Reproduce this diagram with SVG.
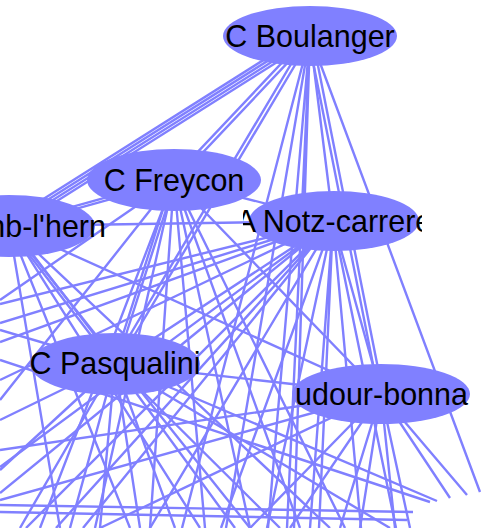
<svg xmlns="http://www.w3.org/2000/svg" width="490" height="528" viewBox="0 0 490 528">
<style>
.e{stroke:#8080ff;stroke-width:2.4;fill:none}
.n{fill:#8080ff}
.t{font-family:"Liberation Sans",Arial,sans-serif;font-size:30.5px;fill:#000}
</style>
<defs>
<clipPath id="cN"><rect x="243" y="185" width="179" height="70"/></clipPath>
<clipPath id="cS"><rect x="289" y="360" width="183" height="70"/></clipPath>
</defs>
<rect width="490" height="528" fill="#fff"/>
<g id="edges" class="e">
<path d="M307.6,32.2L6.6,222.2M309.2,34.7L8.2,224.7M310.8,37.3L9.8,227.3M312.4,39.8L11.4,229.8"/>
<path d="M308.5,34.6L172.5,178.6M311.5,37.4L175.5,181.4"/>
<path d="M308.3,35L113.3,363M311.7,37L116.7,365"/>
<path d="M310,36L182,528M310,36L226,528M310,36L268,528M310,36L287,528M310,36L294,528M310,36L333,221"/>
<path d="M312,35.6L383,393.6M308,36.4L379,394.4M310,36L480,492"/>
<path d="M174.4,181.4L9.4,227.4M173.6,178.6L8.6,224.6M174,180L333,221"/>
<path d="M175.4,180.5L116.4,364.5M172.6,179.5L113.6,363.5M174,180L381,394"/>
<path d="M174,180L40,528M174,180L95,528M174,180L150,528M174,180L205,528M174,180L250,528M174,180L300,528M174,180L345,528M174,180L0,300M174,180L0,400"/>
<path d="M9,226L333,221M10.2,225.1L116.2,363.1M7.8,226.9L113.8,364.9"/>
<path d="M9,226L60,528M9,226L130,528M9,226L200,528M9,226L250,528M9,226L330,528M9,226L381,394"/>
<path d="M333,221L115,364M333,221L381,394"/>
<path d="M333,221L150,528M333,221L221,528M333,221L267,528M333,221L310,528M333,221L319,528M333,221L361,528M333,221L396,528"/>
<path d="M333,221L0,304M333,221L0,323M333,221L0,342M333,221L0,380M333,221L0,467M333,221L0,493M333,221L26,528M333,221L56,528M333,221L83,528"/>
<path d="M115,364L381,394M115,364L20,528M115,364L70,528M115,364L100,528M115,364L140,528M115,364L175,528M115,364L235,528M115,364L280,528M115,364L390,528"/>
<path d="M115,364L0,330M115,364L0,420M115,364L0,470M115,364L437,501"/>
<path d="M381,394L250,528M381,394L290,528M381,394L340,528M381,394L360,528M381,394L395,528M381,394L410,528"/>
<path d="M381,394L0,450M381,394L0,500M381,394L100,528M381,394L467,495M381,394L450,498"/>
<path d="M0,505L413,512M0,512L407,520M0,360L430,502"/>
</g>
<g id="node-boulanger"><ellipse class="n" cx="310" cy="36" rx="87" ry="30"/><text class="t" x="310" y="47" text-anchor="middle">C Boulanger</text></g>
<g id="node-freycon"><ellipse class="n" cx="174" cy="180" rx="87" ry="31"/><text class="t" x="174" y="191" text-anchor="middle">C Freycon</text></g>
<g id="node-hern"><ellipse class="n" cx="9" cy="226" rx="86" ry="31"/><text class="t" x="106" y="237" text-anchor="end">nb-l'hern</text></g>
<g id="node-notz"><ellipse class="n" cx="334" cy="221" rx="85" ry="30"/><text class="t" x="334" y="232" text-anchor="middle" clip-path="url(#cN)">A Notz-carrere</text></g>
<g id="node-pasqualini"><ellipse class="n" cx="115" cy="364" rx="85" ry="31"/><text class="t" x="115" y="374" text-anchor="middle">C Pasqualini</text></g>
<g id="node-bonna"><ellipse class="n" cx="381" cy="394" rx="89" ry="30"/><text class="t" x="295" y="405" clip-path="url(#cS)">udour-bonna</text></g>
</svg>
